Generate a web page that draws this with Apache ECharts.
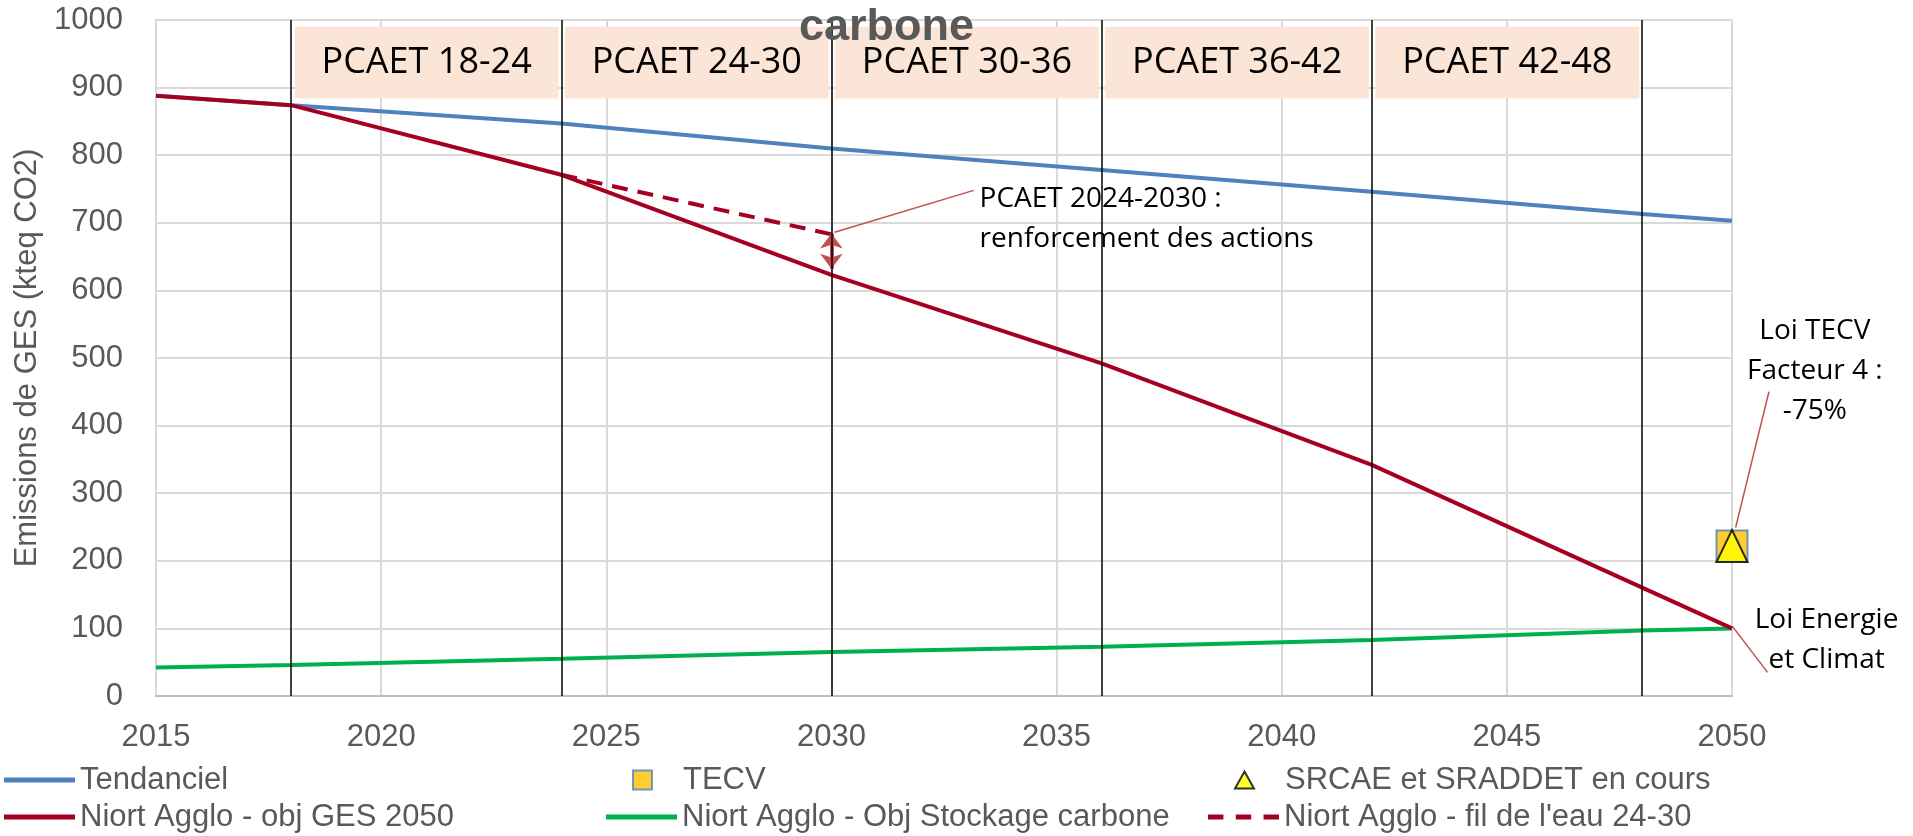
<!DOCTYPE html>
<html>
<head>
<meta charset="utf-8">
<script src="https://cdn.jsdelivr.net/npm/echarts@6/dist/echarts.min.js"></script>
<style>
  html, body { margin: 0; padding: 0; background: #fff; }
  #main { width: 1913px; height: 836px; }
</style>
</head>
<body>
<div id="main"></div>
<script>
// valeurs (kteq CO2)
var tendanciel = [[2015, 888], [2018, 874], [2024, 847], [2030, 810], [2036, 778], [2042, 746], [2048, 713], [2050, 703]];
var objGes2050 = [[2015, 888], [2018, 874], [2024, 771], [2030, 623], [2036, 492], [2042, 342], [2050, 100]];
var stockage = [[2015, 42], [2018, 46], [2024, 55], [2030, 65], [2036, 73], [2042, 83], [2048, 97], [2050, 100]];
var filEau = [[2024, 771], [2030, 683]];
var tecv = [[2050, 222]];
var srcae = [[2050, 222]];

// periodes PCAET
var pcaetLimits = [2018, 2024, 2030, 2036, 2042, 2048];
var pcaetLabels = ['PCAET 18-24', 'PCAET 24-30', 'PCAET 30-36', 'PCAET 36-42', 'PCAET 42-48'];
var pcaetBand = [884, 990];

// fleche "renforcement des actions"
var gapArrow = [[2030, 684], [2030, 632]];

// annotations (coordonnees dans le repere des donnees)
var annotLeaders = [
  [[2030.07, 686], [2033.16, 748]],
  [[2050.08, 249], [2050.82, 450]],
  [[2050.01, 103], [2050.79, 35]]
];
var annotTexts = [
  { at: [2033.29, 706], text: 'PCAET 2024-2030 :\nrenforcement des actions', align: 'left' },
  { at: [2051.84, 480], text: 'Loi TECV\nFacteur 4 :\n-75%', align: 'center' },
  { at: [2052.1, 83], text: 'Loi Energie\net Climat', align: 'center' }
];

var grey = '#595959';
var chart = echarts.init(document.getElementById('main'));

var areas = [];
for (var i = 0; i < pcaetLabels.length; i++) {
  areas.push([
    { name: pcaetLabels[i], xAxis: pcaetLimits[i] + 0.08, yAxis: pcaetBand[1] },
    { xAxis: pcaetLimits[i + 1] - 0.06, yAxis: pcaetBand[0] }
  ]);
}
var vlines = pcaetLimits.map(function (x) { return { xAxis: x }; });

// une legende par element pour reproduire la grille 3 colonnes
var legendText = { color: grey, fontSize: 31, fontFamily: 'Liberation Sans', lineHeight: 34 };
function legendItem(left, top, name, icon, h, noBorder) {
  var l = {
    left: left, top: top, padding: 0, itemGap: 0, selectedMode: false,
    itemWidth: 71, itemHeight: h, icon: icon, symbolKeepAspect: false,
    textStyle: legendText, data: [name]
  };
  if (noBorder) l.itemStyle = { borderWidth: 0 };
  return l;
}
var dashIcon = 'path://M0,0H15V4H0Z M27,0H42V4H27Z M54,0H69V4H54Z';
// petits symboles centres dans une case de 71x19
var squareIcon = 'path://M0,0 M71,19 M26,0H45V19H26Z';
var triangleIcon = 'path://M0,0 M71,19 M35.5,1L45,18H26Z';

var option = {
  animation: false,
  title: {
    text: 'carbone', left: 794, top: 0,
    textStyle: { color: grey, fontSize: 45, fontWeight: 'bold', fontFamily: 'Liberation Sans' }
  },
  legend: [
    legendItem(4, 763, 'Tendanciel', 'rect', 5, true),
    legendItem(4, 800, 'Niort Agglo - obj GES 2050', 'rect', 5, true),
    legendItem(606, 763, 'TECV', squareIcon, 19, false),
    legendItem(606, 800, 'Niort Agglo - Obj Stockage carbone', 'rect', 5, true),
    legendItem(1208, 763, 'SRCAE et SRADDET en cours', triangleIcon, 19, false),
    legendItem(1208, 800, "Niort Agglo - fil de l'eau 24-30", dashIcon, 5, true)
  ],
  grid: { left: 156, right: 181, top: 20, bottom: 140 },
  xAxis: {
    type: 'value', min: 2015, max: 2050, interval: 5,
    axisLine: { show: true, lineStyle: { color: '#bfbfbf', width: 2 } },
    axisTick: { show: false },
    splitLine: { show: true, lineStyle: { color: '#d9d9d9', width: 2 } },
    axisLabel: { color: grey, fontSize: 31, fontFamily: 'Liberation Sans', margin: 26, formatter: function (v) { return String(v); } }
  },
  yAxis: {
    type: 'value', min: 0, max: 1000, interval: 100,
    name: 'Emissions de GES (kteq CO2)', nameLocation: 'middle', nameGap: 84,
    nameTextStyle: { color: grey, fontSize: 31, fontFamily: 'Liberation Sans' },
    axisLine: { show: true, lineStyle: { color: '#d9d9d9', width: 2 } },
    axisTick: { show: false },
    splitLine: { lineStyle: { color: '#d9d9d9', width: 2 } },
    axisLabel: { color: grey, fontSize: 31, fontFamily: 'Liberation Sans', margin: 33, formatter: function (v) { return String(v); } }
  },
  series: [
    {
      name: 'pcaet', type: 'line', data: [], z: -1, silent: true,
      markArea: {
        silent: true,
        itemStyle: { color: '#fbe5d6' },
        label: { show: true, position: 'inside', color: '#000', fontSize: 36, fontFamily: 'Open Sans' },
        data: areas
      }
    },
    {
      name: 'Tendanciel', type: 'line', data: tendanciel, symbol: 'none',
      itemStyle: { color: '#4f81bd' }, lineStyle: { color: '#4f81bd', width: 4 }
    },
    {
      name: 'Niort Agglo - Obj Stockage carbone', type: 'line', data: stockage, symbol: 'none',
      itemStyle: { color: '#00b050' }, lineStyle: { color: '#00b050', width: 4 }
    },
    {
      name: "Niort Agglo - fil de l'eau 24-30", type: 'line', data: filEau, symbol: 'none',
      itemStyle: { color: '#a50021' }, lineStyle: { color: '#a50021', width: 4, type: [16, 10] },
      markLine: {
        silent: true, symbol: ['arrow', 'arrow'], symbolSize: [17, 15],
        label: { show: false },
        lineStyle: { color: '#c0504d', width: 4, type: 'solid' },
        data: [[{ coord: gapArrow[0] }, { coord: gapArrow[1] }]]
      }
    },
    {
      name: 'Niort Agglo - obj GES 2050', type: 'line', data: objGes2050, symbol: 'none',
      itemStyle: { color: '#a50021' }, lineStyle: { color: '#a50021', width: 4 },
      markLine: {
        silent: true, symbol: 'none', label: { show: false },
        lineStyle: { color: '#000', width: 1.5, type: 'solid' },
        data: vlines
      }
    },
    {
      name: 'TECV', type: 'scatter', data: tecv, symbol: 'rect', symbolSize: 31,
      itemStyle: { color: '#ffc000', borderColor: '#4f81bd', borderWidth: 2 }
    },
    {
      name: 'SRCAE et SRADDET en cours', type: 'scatter', data: srcae, symbol: 'triangle', symbolSize: [31, 32],
      itemStyle: { color: '#ffff00', borderColor: '#000', borderWidth: 2 }
    }
  ]
};
chart.setOption(option);

// annotations placees via l'echelle des axes
function px(pt) { return chart.convertToPixel({ xAxisIndex: 0, yAxisIndex: 0 }, pt); }
var elements = [];
annotLeaders.forEach(function (l) {
  var a = px(l[0]), b = px(l[1]);
  elements.push({
    type: 'line', silent: true,
    shape: { x1: a[0], y1: a[1], x2: b[0], y2: b[1] },
    style: { stroke: '#c0504d', lineWidth: 1.5 }
  });
});
annotTexts.forEach(function (t) {
  var p = px(t.at);
  elements.push({
    type: 'text', silent: true, x: p[0], y: p[1],
    style: {
      text: t.text, fill: '#000', fontSize: 28, fontFamily: 'Open Sans', lineHeight: 40,
      align: t.align, textAlign: t.align, verticalAlign: 'middle', textVerticalAlign: 'middle'
    }
  });
});
chart.setOption({ graphic: { elements: elements } });
</script>
</body>
</html>
